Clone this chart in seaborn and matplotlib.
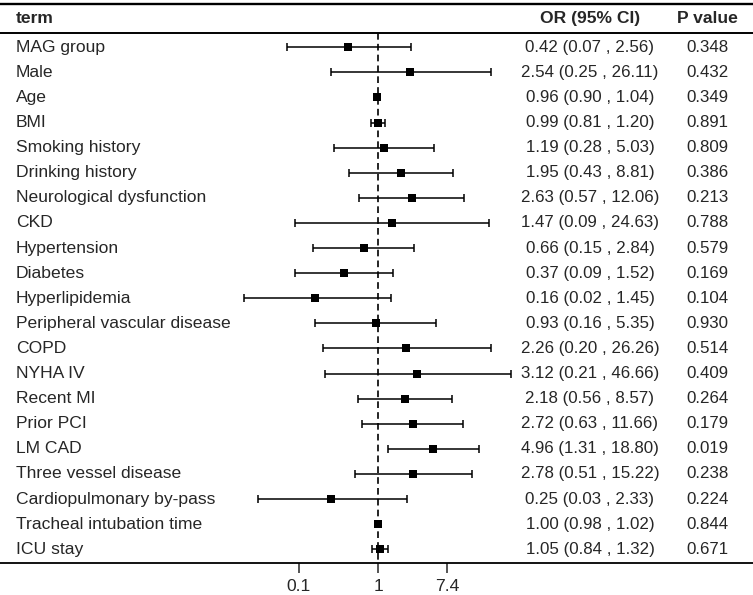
import numpy as np
import pandas as pd
import matplotlib
matplotlib.use("Agg")
import matplotlib.pyplot as plt
import seaborn as sns

terms = ["MAG group", "Male", "Age", "BMI", "Smoking history", "Drinking history",
         "Neurological dysfunction", "CKD", "Hypertension", "Diabetes", "Hyperlipidemia",
         "Peripheral vascular disease", "COPD", "NYHA IV", "Recent MI", "Prior PCI",
         "LM CAD", "Three vessel disease", "Cardiopulmonary by-pass",
         "Tracheal intubation time", "ICU stay"]
odds = [0.42, 2.54, 0.96, 0.99, 1.19, 1.95, 2.63, 1.47, 0.66, 0.37, 0.16,
        0.93, 2.26, 3.12, 2.18, 2.72, 4.96, 2.78, 0.25, 1.00, 1.05]
ci_low = [0.07, 0.25, 0.90, 0.81, 0.28, 0.43, 0.57, 0.09, 0.15, 0.09, 0.02,
          0.16, 0.20, 0.21, 0.56, 0.63, 1.31, 0.51, 0.03, 0.98, 0.84]
ci_high = [2.56, 26.11, 1.04, 1.20, 5.03, 8.81, 12.06, 24.63, 2.84, 1.52, 1.45,
           5.35, 26.26, 46.66, 8.57, 11.66, 18.80, 15.22, 2.33, 1.02, 1.32]
p_values = ["0.348", "0.432", "0.349", "0.891", "0.809", "0.386", "0.213", "0.788",
            "0.579", "0.169", "0.104", "0.930", "0.514", "0.409", "0.264", "0.179",
            "0.019", "0.238", "0.224", "0.844", "0.671"]
tick_values = [0.1, 1, 7.4]
tick_labels = ["0.1", "1", "7.4"]

df = pd.DataFrame({"term": terms, "OR": odds, "low": ci_low, "high": ci_high, "p": p_values})
df["row"] = np.arange(len(df))

sns.set_style("white")
plt.rcParams["font.family"] = ["Liberation Sans", "DejaVu Sans"]

fig = plt.figure(figsize=(7.53, 5.95), dpi=100)
ax = fig.add_axes([0, 32 / 595, 1, 563 / 595])

ax.set_xscale("log")
ax.set_xlim(10 ** -4.770, 10 ** 4.725)
y_bottom, y_top = 20.546, -1.884
ax.set_ylim(y_bottom, y_top)

# confidence intervals
ax.errorbar(df["OR"], df["row"],
            xerr=[df["OR"] - df["low"], df["high"] - df["OR"]],
            fmt="none", ecolor="black", elinewidth=1.1, capsize=2.8, capthick=1.1)
sns.scatterplot(data=df, x="OR", y="row", marker="s", s=30, color="black",
                edgecolor="black", linewidth=0, ax=ax, zorder=3, legend=False)

# reference line at OR = 1
ax.vlines(1, -0.57, y_bottom, colors="black", linewidth=1.2, linestyles=(0, (4, 2.5)))

# table lines
ax.axhline(-1.725, color="black", linewidth=1.7)
ax.axhline(-0.57, color="black", linewidth=1.4)

trans = ax.get_yaxis_transform()
fs = 12.6
fs_num = 12.2
ax.text(0.0212, -1.155, "term", transform=trans, ha="left", va="center",
        fontsize=fs, fontweight="bold")
ax.text(0.7835, -1.155, "OR (95% CI)", transform=trans, ha="center", va="center",
        fontsize=fs, fontweight="bold")
ax.text(0.939, -1.155, "P value", transform=trans, ha="center", va="center",
        fontsize=fs, fontweight="bold")
for _, r in df.iterrows():
    ax.text(0.0212, r["row"], r["term"], transform=trans, ha="left", va="center", fontsize=fs)
    ax.text(0.7835, r["row"], f"{r['OR']:.2f} ({r['low']:.2f} , {r['high']:.2f})",
            transform=trans, ha="center", va="center", fontsize=fs_num)
    ax.text(0.939, r["row"], r["p"], transform=trans, ha="center", va="center", fontsize=fs_num)

ax.set_xticks(tick_values)
ax.set_xticklabels(tick_labels, fontsize=fs)
ax.xaxis.set_minor_locator(matplotlib.ticker.NullLocator())
ax.tick_params(axis="x", direction="out", length=7.5, width=1.1, pad=4, bottom=True)
ax.set_yticks([])
ax.set_xlabel("")
ax.set_ylabel("")
for side in ["top", "left", "right"]:
    ax.spines[side].set_visible(False)
ax.spines["bottom"].set_linewidth(1.3)
ax.spines["bottom"].set_color("black")

fig.savefig("out.png", dpi=100)
